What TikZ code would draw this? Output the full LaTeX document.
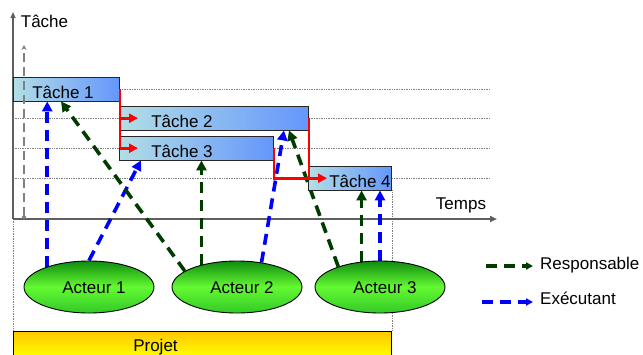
\documentclass[tikz,border=0pt]{standalone}
\usepackage{fontspec}
\setmainfont{Liberation Sans}
\usetikzlibrary{arrows.meta,shapes.geometric,calc}
\pgfdeclarelayer{bg}
\pgfsetlayers{bg,main}
\definecolor{barL}{RGB}{178,222,230}
\definecolor{barR}{RGB}{100,150,252}
\definecolor{respC}{RGB}{0,60,0}
\definecolor{execC}{RGB}{0,0,255}
\definecolor{grnT}{RGB}{15,140,15}
\definecolor{grnM}{RGB}{100,250,50}
\definecolor{grnB}{RGB}{50,200,40}
\definecolor{projT}{RGB}{255,200,0}
\definecolor{projB}{RGB}{255,255,0}
\definecolor{axisC}{RGB}{95,95,95}
\begin{document}
\begin{tikzpicture}[x=1pt,y=-1pt,font=\fontsize{17}{20}\selectfont,
  bar/.style={draw=black!85,line width=0.9pt,left color=barL,right color=barR,
    minimum height=23.5pt,inner sep=0pt,anchor=north west},
  actor/.style={ellipse,draw=black,line width=0.9pt,top color=grnT,bottom color=grnB,
    middle color=grnM,minimum width=130pt,minimum height=52pt,inner sep=0pt},
  txt/.style={anchor=base,inner sep=0pt},
  grid line/.style={densely dotted,gray,line width=0.7pt},
  resp/.style={draw=respC,line width=3.6pt,dash pattern=on 11pt off 7pt,
    -{Triangle[length=10pt,width=10pt]}},
  exec/.style={draw=execC,line width=3.6pt,dash pattern=on 11pt off 7pt,
    -{Triangle[length=10pt,width=10pt]}},
  small tip/.style={-{Triangle[length=7pt,width=7pt]}},
  dep/.style={draw=red,line width=2.8pt},
  deparrow/.style={draw=red,line width=2.8pt,-{Triangle[length=9pt,width=9pt]}}]
\path[use as bounding box,clip] (0,0) rectangle (643,354);

% axes origin
\coordinate (O) at (13,219);
\coordinate (ytop) at (13,12);
\coordinate (xend) at (497,219);

% bars
\node[bar,minimum width=106pt] (t1) at (13,77) {};
\node[bar,minimum width=189pt] (t2) at (119,106) {};
\node[bar,minimum width=154pt] (t3) at (119,136) {};
\node[bar,minimum width=83pt] (t4) at (308,166) {};
\node[txt] (t1l) at (63,98) {Tâche 1};
\node[txt] (t2l) at (182,127) {Tâche 2};
\node[txt] (t3l) at (182,157) {Tâche 3};
\node[txt] (t4l) at (360,187) {Tâche 4};

% actors
\node[actor] (a1) at (89,287) {};
\node[actor] (a2) at (237,287) {};
\node[actor] (a3) at (380,287) {};
\node[txt] (a1l) at (94,293) {Acteur 1};
\node[txt] (a2l) at (242,293) {Acteur 2};
\node[txt] (a3l) at (385,293) {Acteur 3};

% project
\node[anchor=north west,draw=black,line width=0.9pt,top color=projT,bottom color=projB,
  minimum width=378pt,minimum height=26pt,inner sep=0pt] (p) at (13,331) {};
\node[txt] (pl) at (155.5,351) {Projet};

% axis labels
\node[txt] (yl) at (44.5,27) {Tâche};
\node[txt] (xl) at (461,209) {Temps};

\begin{pgfonlayer}{bg}
  % grid
  \foreach \n in {t1,t2,t3,t4}
    \draw[grid line] (O |- \n.east) -- (490,0 |- \n.east);
  \draw[grid line] (O) -- (O |- p.north);
  \draw[grid line] (t4.south east) -- (t4.south east |- p.north);
  % axes
  \draw[axisC,line width=1.3pt,-{Triangle[length=6pt,width=5pt]}] (O) -- (ytop);
  \draw[axisC,line width=2.2pt,-{Triangle[length=7pt,width=6pt]}] (O) -- (xend);
  % connectors
  \draw[exec] (a1.154) -- (a1.154 |- t1.south);
  \draw[exec] (a1.90) -- ([xshift=22pt]t3.south west);
  \draw[resp] (a2.163) -- ([xshift=48pt]t1.south west);
  \draw[resp] (a2.148) -- (a2.148 |- t3.south);
  \draw[exec] (a2.45) -- ([xshift=165pt]t2.south west);
  \draw[resp] (a3.154) -- ([xshift=170pt]t2.south west);
  \draw[resp] (a3.126) -- (a3.126 |- t4.south);
  \draw[exec] (a3.90) -- (a3.90 |- t4.south);
\end{pgfonlayer}

% gray marker line
\coordinate (m0) at (24,219);
\coordinate (m1) at (24,45);
\draw[gray,line width=1.6pt,dash pattern=on 9pt off 5pt,
  {Circle[length=4pt]}-{Stealth[length=5pt,width=5pt]}] (m0) -- (m1);

% dependencies
\draw[dep] (t1.east) -- (t1.east |- t3.west);
\draw[deparrow] (t1.east |- t2.west) -- ([xshift=19pt]t2.west);
\draw[deparrow] (t1.east |- t3.west) -- ([xshift=19pt]t3.west);
\draw[dep] (t2.east) -- (t2.east |- t4.west);
\draw[deparrow] (t3.east) |- ([xshift=19pt]t4.west);

% legend
\coordinate (r0) at (486,266);
\coordinate (r1) at (533,266);
\coordinate (e0) at (482,302);
\coordinate (e1) at (533,302);
\draw[resp,small tip] (r0) -- (r1);
\draw[exec,small tip] (e0) -- (e1);
\node[anchor=base west,inner sep=0pt] (rl) at (540,269) {Responsable};
\node[anchor=base west,inner sep=0pt] (el) at (540,304) {Exécutant};
\end{tikzpicture}
\end{document}
